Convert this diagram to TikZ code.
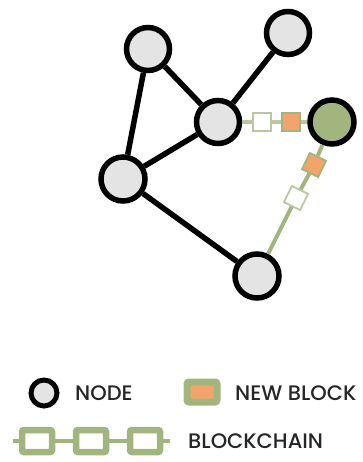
\documentclass[tikz,border=0pt]{standalone}
\usepackage{fontspec}
\setmainfont{Poppins}[UprightFont=* Medium]
\definecolor{nodegray}{HTML}{E4E4E4}
\definecolor{leaf}{HTML}{A3B57E}
\definecolor{paleleaf}{HTML}{BAC7A1}
\definecolor{blockorange}{HTML}{F2A46C}
\begin{document}
\begin{tikzpicture}[x=1pt,y=-1pt,
  peer/.style={circle, draw=black, line width=5.5pt, fill=nodegray,
    minimum size=43pt, inner sep=0pt},
  tie/.style={line width=5.5pt, black},
  chainline/.style={line width=4pt, paleleaf},
  blk/.style={rectangle, draw=paleleaf, line width=1.8pt, fill=white,
    minimum size=18pt, inner sep=0pt},
  newblk/.style={blk, draw=leaf, fill=blockorange},
  ringblk/.style={rectangle, draw=leaf, line width=6.5pt, fill=white,
    minimum width=30pt, minimum height=22pt, inner sep=0pt, rounded corners=2pt},
  label/.style={anchor=base west, inner sep=0pt, text=black!85,
    font=\fontsize{21}{25}\selectfont}
]
\useasboundingbox (0,0) rectangle (362,462);

% network nodes
\node[peer] (tl) at (148,49) {};
\node[peer] (tr) at (288,33) {};
\node[peer] (hub) at (218,122) {};
\node[peer, fill=leaf, minimum size=44pt] (miner) at (332,122) {};
\node[peer, minimum size=44pt] (lf) at (123,179) {};
\node[peer, minimum size=44pt] (bt) at (257,276) {};

% peer-to-peer links
\draw[tie] (tl) -- (hub);
\draw[tie] (tl) -- (lf);
\draw[tie] (tr) -- (hub);
\draw[tie] (hub) -- (lf);
\draw[tie] (lf) -- (bt);

% block chains spreading from the miner
\node[blk] (h1) at (262,122) {};
\node[newblk] (h2) at (291,122) {};
\draw[chainline] (hub) -- (h1);
\draw[chainline] (h1) -- (h2);
\draw[chainline] (h2) -- (miner);

\node[newblk, rotate=-26] (d1) at (314,165) {};
\node[blk, rotate=-26] (d2) at (296,198) {};
\draw[line width=4pt, leaf] (miner) -- (d1);
\draw[line width=4pt, leaf] (d1) -- (d2);
\draw[line width=4pt, leaf] (d2) -- (bt);

% legend
\node[circle, draw=black, line width=5pt, fill=nodegray,
  minimum size=26pt, inner sep=0pt] (lgnode) at (44,393) {};
\node[label] (lgnodetxt) at (75,400) {NODE};

\node[rectangle, draw=leaf, line width=7pt, fill=blockorange,
  minimum width=30pt, minimum height=20pt, inner sep=0pt,
  rounded corners=2pt] (lgblock) at (202,392) {};
\node[label] (lgblocktxt) at (235,400) {NEW BLOCK};

\coordinate (cl) at (13,441);
\coordinate (cr) at (170,441);
\node[ringblk] (r1) at (37,441) {};
\node[ringblk] (r2) at (91,441) {};
\node[ringblk] (r3) at (145,441) {};
\draw[line width=4pt, leaf] (cl) -- (r1);
\draw[line width=4pt, leaf] (r1) -- (r2);
\draw[line width=4pt, leaf] (r2) -- (r3);
\draw[line width=4pt, leaf] (r3) -- (cr);
\node[label] (lgchaintxt) at (188,448) {BLOCKCHAIN};
\end{tikzpicture}
\end{document}
